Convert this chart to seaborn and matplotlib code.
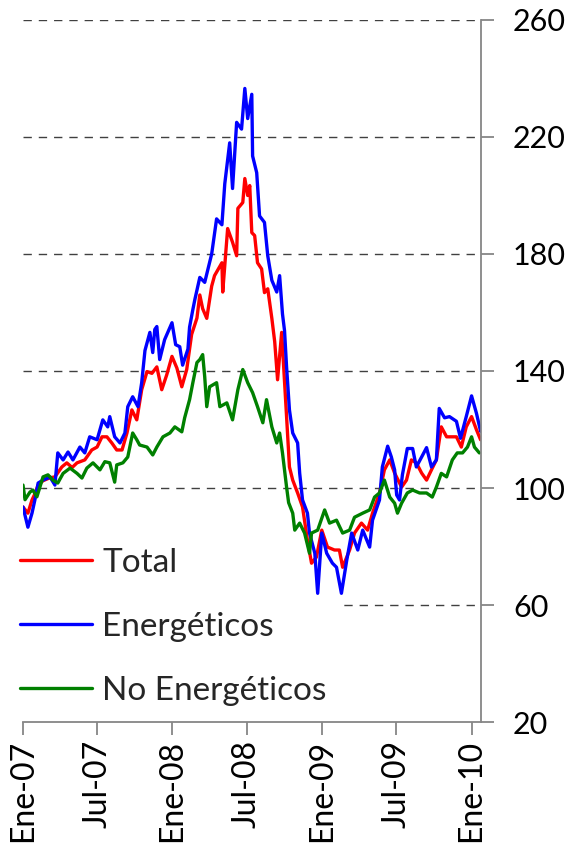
import pandas as pd
import matplotlib
matplotlib.use("Agg")
import matplotlib.pyplot as plt
import matplotlib.dates as mdates
import seaborn as sns

# Indices (base Ene-07 = 100); days counted from 2007-01-01
start = "2007-01-01"

total_days = [0, 12, 22, 29, 37, 49, 66, 78, 95, 107, 120, 132, 151, 168, 181, 193,
              205, 217, 229, 242, 254, 266, 278, 290, 303, 315, 327, 339, 351, 364,
              376, 388, 400, 412, 425, 432, 439, 449, 461, 468, 486, 488, 500, 512,
              522, 525, 537, 542, 549, 554, 559, 566, 573, 583, 590, 598, 608, 615,
              622, 632, 644, 651, 659, 671, 683, 695, 705, 717, 730, 744, 761, 773,
              781, 798, 810, 827, 842, 854, 871, 883, 896, 908, 925, 937, 949, 961,
              974, 986, 998, 1010, 1022, 1035, 1047, 1059, 1071, 1083, 1096, 1108, 1118]
total_vals = [93.5, 91.4, 95.9, 98, 101, 102.5, 103.5, 103.8, 107.2, 108.6, 107, 108.6,
              109.6, 113, 114, 117.5, 117.5, 115.4, 113, 113, 118.8, 126.7, 123.3, 133.6,
              139.8, 139.2, 141.4, 133.6, 138.6, 145, 141, 134.6, 140.5, 152.5, 158.1,
              166, 161.3, 158, 169, 172.6, 177, 167, 188.7, 184, 179.4, 195.6, 197.6,
              205.8, 200, 203.4, 187.3, 186.3, 177, 174.9, 166.8, 168.1, 158, 150, 137,
              153.2, 124.4, 107.2, 102.7, 98.3, 93.5, 82.1, 74.3, 76.4, 85.6, 79.8, 78.8,
              78.8, 72.9, 78.8, 84.6, 88, 85.6, 91.4, 98.3, 106.2, 109.6, 105.1, 100.3,
              102.7, 109.6, 108.6, 105.1, 102.7, 106.2, 109.6, 120.9, 117.5, 117.5, 117.5,
              114, 120.9, 124.4, 119.9, 116.5]

energ_days = [0, 12, 22, 29, 37, 49, 66, 78, 85, 98, 110, 122, 139, 151, 163, 181, 195,
              207, 212, 224, 237, 249, 256, 268, 281, 290, 298, 310, 317, 322, 327, 334,
              346, 364, 373, 383, 390, 403, 407, 415, 420, 432, 444, 461, 473, 486, 493,
              505, 512, 522, 534, 542, 549, 559, 561, 571, 578, 590, 598, 608, 620, 627,
              634, 639, 644, 651, 659, 671, 676, 683, 695, 700, 713, 720, 730, 742, 756,
              766, 778, 791, 803, 818, 830, 847, 854, 871, 878, 891, 900, 908, 913, 920,
              927, 939, 952, 961, 974, 986, 998, 1010, 1017, 1030, 1042, 1059, 1069, 1083,
              1096, 1108, 1118]
energ_vals = [93.5, 86.6, 91.4, 95.9, 101.7, 102.7, 103.8, 101, 112, 109.6, 112.3, 109.6,
              114, 112, 117.5, 116.5, 123.3, 120.9, 124.4, 117.5, 115.4, 118.8, 127.8,
              131.2, 127.8, 136, 147, 153.2, 146.3, 154.2, 155.2, 143.9, 150.7, 156.5, 149,
              148.3, 142, 147.5, 155, 161, 164.5, 172, 170.3, 180, 192, 190, 204, 218,
              202.4, 225, 222.7, 236.6, 226.3, 234.6, 213.5, 207.8, 193, 190.8, 179.4, 171,
              167, 172.6, 159.5, 153.8, 141.4, 126.7, 118.8, 115.4, 105.1, 95.9, 91.4, 84.6,
              77.7, 64, 84.6, 77.7, 74.3, 72.9, 64, 75.3, 84.6, 78.8, 85.6, 79.8, 89, 95.9,
              107.2, 114.3, 110.6, 106.2, 97.6, 95.9, 104.5, 113.5, 113.5, 107.2, 110.6,
              113.8, 107.2, 109.6, 127.2, 124, 124.4, 122.8, 117, 124.4, 131.5, 125.5, 119.4]

noen_days = [0, 5, 17, 24, 34, 49, 61, 73, 85, 98, 115, 132, 144, 156, 171, 188, 200, 212,
             224, 229, 244, 256, 268, 278, 285, 303, 317, 327, 342, 359, 371, 388, 395,
             407, 415, 425, 432, 439, 444, 449, 456, 473, 481, 498, 512, 525, 537, 549,
             561, 573, 586, 595, 608, 620, 627, 634, 644, 649, 659, 664, 676, 688, 700,
             705, 720, 737, 749, 766, 781, 798, 810, 830, 847, 859, 871, 883, 896, 908,
             915, 925, 939, 952, 969, 986, 1000, 1010, 1022, 1035, 1049, 1061, 1074, 1086,
             1096, 1103, 1115]
noen_vals = [101, 96, 98.6, 99.3, 97, 103.8, 104.5, 102.7, 101.7, 105, 106.8, 105, 103.4,
             106.8, 108.6, 106.2, 109, 108.6, 102, 107.9, 108.6, 110.6, 118.8, 116.5,
             114.7, 114, 111.3, 114, 117.5, 118.8, 120.9, 119.2, 124, 130.2, 136, 142.9,
             143.9, 145.6, 138, 127.8, 134.6, 136, 127.8, 129.1, 123.3, 133.6, 140.5, 136,
             132.6, 127.8, 122.3, 130.2, 120.9, 115.4, 118.8, 112, 100.3, 95, 91.4, 85.6,
             88, 84.6, 77.7, 84.6, 85.6, 92.5, 88, 89, 84.6, 85.6, 90, 91.4, 92.5, 96.9,
             98.3, 102.7, 96.9, 94.8, 91.4, 94.8, 98.3, 99.3, 98.3, 98.3, 96.9, 100.3, 105,
             103.8, 109.6, 112, 112, 114, 117.5, 114, 112]

series_names = ["Total", "Energéticos", "No Energéticos"]
colors = {"Total": "#FF0000", "Energéticos": "#0000FF", "No Energéticos": "#008000"}

tick_dates = ["2007-01-01", "2007-07-01", "2008-01-01", "2008-07-01",
              "2009-01-01", "2009-07-01", "2010-01-01"]
tick_labels = ["Ene-07", "Jul-07", "Ene-08", "Jul-08", "Ene-09", "Jul-09", "Ene-10"]
y_ticks = [20, 60, 100, 140, 180, 220, 260]


def make_frame(days, vals, name):
    fechas = pd.Timestamp(start) + pd.to_timedelta(days, unit="D")
    return pd.DataFrame({"fecha": fechas, "indice": vals, "serie": name})


df = pd.concat([make_frame(total_days, total_vals, "Total"),
                make_frame(energ_days, energ_vals, "Energéticos"),
                make_frame(noen_days, noen_vals, "No Energéticos")], ignore_index=True)

sns.set_style("white")
plt.rcParams["font.family"] = ["Lato", "DejaVu Sans"]

fig = plt.figure(figsize=(5.65, 8.58), dpi=100)
ax = fig.add_axes([0.0407, 0.1585, 0.8106, 0.8182])

sns.lineplot(data=df, x="fecha", y="indice", hue="serie", hue_order=series_names,
             palette=colors, linewidth=2.4, estimator=None, ax=ax)

# axis limits / ticks
ax.set_xlim(pd.Timestamp("2007-01-01"), pd.Timestamp("2010-01-24"))
ax.set_ylim(20, 260)
ax.set_yticks(y_ticks)
ax.set_xticks(mdates.date2num(pd.to_datetime(tick_dates)))
ax.set_xticklabels(tick_labels)
ax.set_xlabel("")
ax.set_ylabel("")

ax.yaxis.tick_right()
for side in ["left", "top"]:
    ax.spines[side].set_visible(False)
for side in ["right", "bottom"]:
    ax.spines[side].set_color("#868686")
    ax.spines[side].set_linewidth(1.3)

ax.tick_params(axis="y", right=True, left=False, direction="out", length=9, width=1.3,
               color="#868686", pad=14, labelsize=22, labelcolor="black")
ax.tick_params(axis="x", bottom=True, direction="out", length=9, width=1.3,
               color="#868686", pad=4, labelsize=23, labelrotation=90, labelcolor="black")

# dashed horizontal gridlines
ax.set_axisbelow(True)
ax.yaxis.grid(True, linestyle=(0, (6, 5)), color="#404040", linewidth=1.0)
ax.xaxis.grid(False)
ax.yaxis.get_gridlines()[0].set_visible(False)

# legend: white box hides the grid but stays under the lines
old = ax.get_legend()
handles = old.legend_handles
labels = [t.get_text() for t in old.get_texts()]
old.remove()
leg = ax.legend(handles, labels, loc="center left", bbox_to_anchor=(0.0124, 0.2692),
                bbox_transform=fig.transFigure, frameon=True, facecolor="white",
                edgecolor="none", framealpha=1, fancybox=False, fontsize=24,
                handlelength=2.15, handletextpad=0.3, labelspacing=1.02,
                borderpad=0.4, borderaxespad=0)
leg.set_zorder(1.5)

fig.savefig("out.png", dpi=100)
